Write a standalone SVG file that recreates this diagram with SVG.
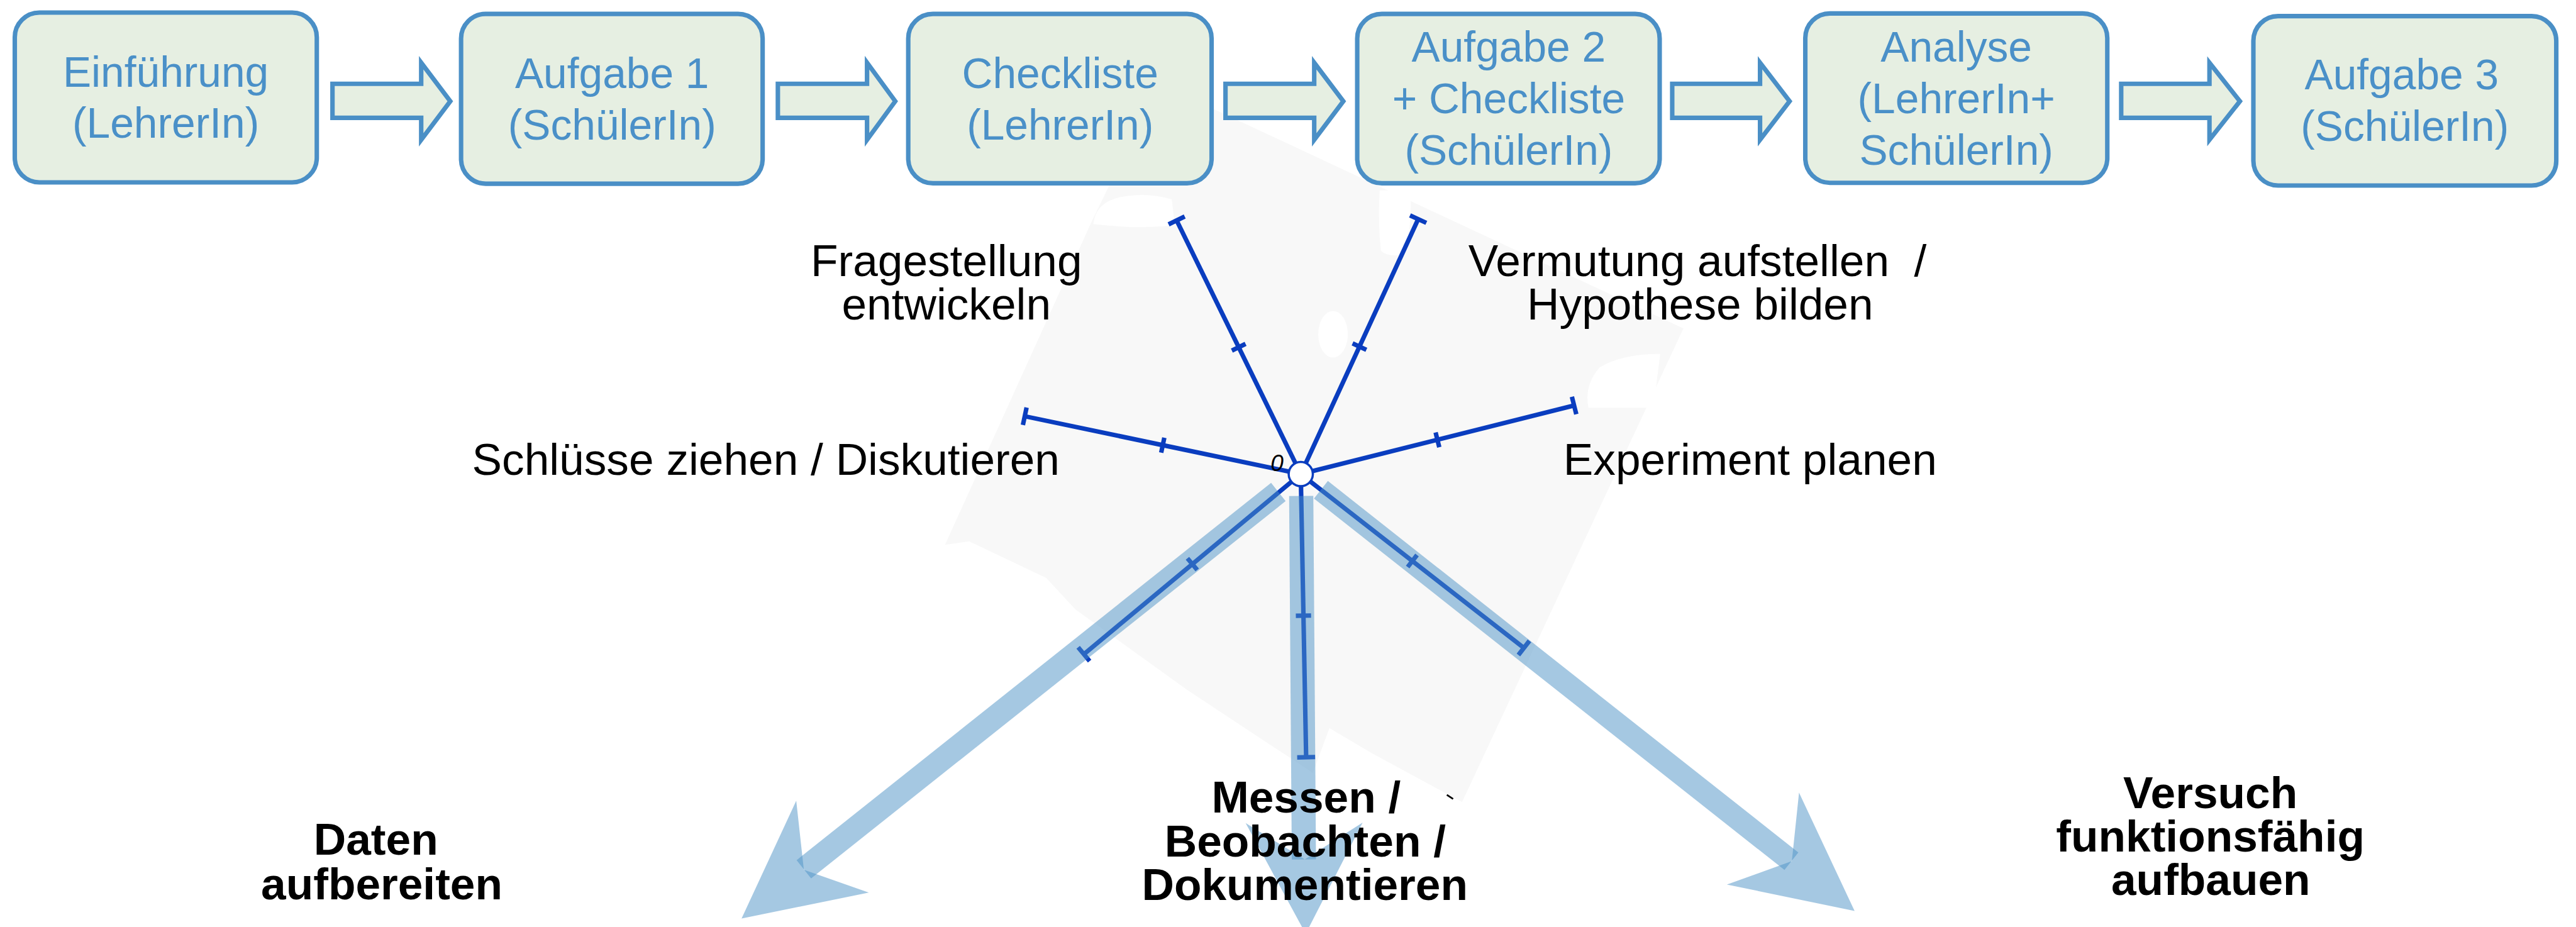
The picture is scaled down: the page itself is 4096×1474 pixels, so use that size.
<svg xmlns="http://www.w3.org/2000/svg" width="4096" height="1474" viewBox="0 0 4096 1474">
<style>
.box{fill:#e6efe2;stroke:#4a8fc6;stroke-width:10}
.btxt{font-family:"Liberation Sans",Arial,sans-serif;font-size:95px;fill:#4a90c8;text-anchor:middle}
.barrow{fill:#e6efe2;stroke:#4a8fc6;stroke-width:10}
.lbl{font-family:"Liberation Sans",Arial,sans-serif;font-size:100px;fill:#000}
.bold{font-weight:bold;text-anchor:middle}
.spoke{stroke:#0a3dbf;stroke-width:10;fill:none}
.band{stroke:#4b91c5;stroke-opacity:0.5;fill:none}
.head{fill:#4b91c5;fill-opacity:0.5}
</style>
<rect width="4096" height="1474" fill="#ffffff"/>
<g transform="scale(0.71247)">
  <g id="background">
    <polygon fill="#f8f8f8" points="2650,216 3757,733 3263,1790 3060,1680 2967,1625 2930,1725 2650,1540 2400,1360 2335,1290 2163,1208 2109,1216 2436,495 2480,405 2620,405"/>
    <path fill="#ffffff" d="M2440,500 Q2445,452 2500,440 Q2560,428 2615,445 L2622,503 Q2540,512 2440,500 Z"/>
    <path fill="#ffffff" d="M3079,425 L3148,425 Q3150,540 3130,568 Q3100,575 3082,560 Q3075,500 3079,425 Z"/>
    <ellipse fill="#ffffff" cx="2975" cy="746" rx="33" ry="52"/>
    <path fill="#ffffff" d="M3705,790 Q3620,790 3570,820 Q3535,860 3545,910 L3690,910 Z"/>
  </g>
  <g id="connectors">
    <polygon class="barrow" points="742,187 940,187 940,140 1005,226 940,312 940,263 742,263"/>
    <polygon class="barrow" points="1736,187 1935,187 1935,140 1998,226 1935,312 1935,263 1736,263"/>
    <polygon class="barrow" points="2735,187 2933,187 2933,140 2998,226 2933,312 2933,263 2735,263"/>
    <polygon class="barrow" points="3732,187 3928,187 3928,140 3994,226 3928,312 3928,263 3732,263"/>
    <polygon class="barrow" points="4734,187 4931,187 4931,140 4999,226 4931,312 4931,263 4734,263"/>
  </g>
  <g id="n1">
    <rect class="box" x="33" y="28" width="674" height="379" rx="55"/>
    <text class="btxt"><tspan x="370" y="193">Einführung</tspan><tspan x="370" y="308">(LehrerIn)</tspan></text>
  </g>
  <g id="n2">
    <rect class="box" x="1029" y="31" width="673" height="379" rx="55"/>
    <text class="btxt"><tspan x="1366" y="196">Aufgabe 1</tspan><tspan x="1366" y="312">(SchülerIn)</tspan></text>
  </g>
  <g id="n3">
    <rect class="box" x="2027" y="31" width="677" height="378" rx="55"/>
    <text class="btxt"><tspan x="2366" y="196">Checkliste</tspan><tspan x="2366" y="311">(LehrerIn)</tspan></text>
  </g>
  <g id="n4">
    <rect class="box" x="3029" y="31" width="675" height="378" rx="55"/>
    <text class="btxt"><tspan x="3367" y="137">Aufgabe 2</tspan><tspan x="3367" y="253">+ Checkliste</tspan><tspan x="3367" y="368">(SchülerIn)</tspan></text>
  </g>
  <g id="n5">
    <rect class="box" x="4029" y="30" width="674" height="378" rx="55"/>
    <text class="btxt"><tspan x="4366" y="137">Analyse</tspan><tspan x="4366" y="252">(LehrerIn+</tspan><tspan x="4366" y="368">SchülerIn)</tspan></text>
  </g>
  <g id="n6">
    <rect class="box" x="5029" y="36" width="676" height="378" rx="55"/>
    <text class="btxt"><tspan x="5360" y="200">Aufgabe 3</tspan><tspan x="5367" y="315">(SchülerIn)</tspan></text>
  </g>
  <g id="star">
    <g class="spoke">
      <line x1="2903" y1="1058" x2="2626" y2="492"/>
      <line x1="2608" y1="500.8" x2="2644" y2="483.2"/>
      <line x1="2749.2" y1="782.5" x2="2779.8" y2="767.5"/>
      <line x1="2903" y1="1058" x2="3165" y2="489"/>
      <line x1="3146.8" y1="480.6" x2="3183.2" y2="497.4"/>
      <line x1="3018.6" y1="766.4" x2="3049.4" y2="780.6"/>
      <line x1="2903" y1="1058" x2="2287" y2="929"/>
      <line x1="2282.9" y1="948.6" x2="2291.1" y2="909.4"/>
      <line x1="2591.5" y1="1010.1" x2="2598.5" y2="976.9"/>
      <line x1="2903" y1="1058" x2="3513" y2="905"/>
      <line x1="3508.1" y1="885.6" x2="3517.9" y2="924.4"/>
      <line x1="3203.9" y1="965" x2="3212.1" y2="998"/>
      <line x1="2903" y1="1058" x2="2419" y2="1460"/>
      <line x1="2406.2" y1="1444.6" x2="2431.8" y2="1475.4"/>
      <line x1="2650.1" y1="1245.9" x2="2671.9" y2="1272.1"/>
      <line x1="2903" y1="1058" x2="2915" y2="1690"/>
      <line x1="2895" y1="1690.4" x2="2935" y2="1689.6"/>
      <line x1="2892" y1="1374.3" x2="2926" y2="1373.7"/>
      <line x1="2903" y1="1058" x2="3401" y2="1446"/>
      <line x1="3413.3" y1="1430.2" x2="3388.7" y2="1461.8"/>
      <line x1="3162.4" y1="1238.6" x2="3141.6" y2="1265.4"/>
    </g>
    <circle cx="2903" cy="1058" r="27" fill="#ffffff" stroke="#0a3dbf" stroke-width="5"/>
    <text x="2850" y="1051" font-family="'Liberation Sans',Arial,sans-serif" font-size="52" font-style="italic" text-anchor="middle" fill="#000">0</text>
  </g>
  <g id="outcome-arrows">
    <line class="band" stroke-width="52" x1="2853" y1="1098" x2="1794" y2="1940"/>
    <polygon class="head" points="1777,1787 1655,2050 1939,1992 1794,1941"/>
    <line class="band" stroke-width="54" x1="2904" y1="1107" x2="2910" y2="1918"/>
    <polygon class="head" points="2780,1837 2914,2084 3041,1836 2912,1918"/>
    <line class="band" stroke-width="50" x1="2948" y1="1093" x2="3998" y2="1922"/>
    <polygon class="head" points="4015,1769 4139,2033 3854,1974 3999,1922"/>
  </g>
  <g id="labels">
    <text class="lbl" text-anchor="middle"><tspan x="2112" y="616">Fragestellung</tspan><tspan x="2112" y="713">entwickeln</tspan></text>
    <text class="lbl" xml:space="preserve"><tspan x="3277" y="616">Vermutung aufstellen  /</tspan><tspan x="3408" y="713">Hypothese bilden</tspan></text>
    <text class="lbl" text-anchor="end" x="2365" y="1059">Schlüsse ziehen / Diskutieren</text>
    <text class="lbl" x="3489" y="1059">Experiment planen</text>
    <text class="lbl bold"><tspan x="839" y="1908">Daten</tspan><tspan x="852" y="2007">aufbereiten</tspan></text>
    <text class="lbl bold"><tspan x="2915" y="1813">Messen /</tspan><tspan x="2913" y="1911">Beobachten /</tspan><tspan x="2912" y="2008">Dokumentieren</tspan></text>
    <text class="lbl bold"><tspan x="4933" y="1804">Versuch</tspan><tspan x="4933" y="1900">funktionsfähig</tspan><tspan x="4934" y="1997">aufbauen</tspan></text>
    <line x1="3229" y1="1774" x2="3243" y2="1783" stroke="#000" stroke-width="4"/>
  </g>
</g>
</svg>
